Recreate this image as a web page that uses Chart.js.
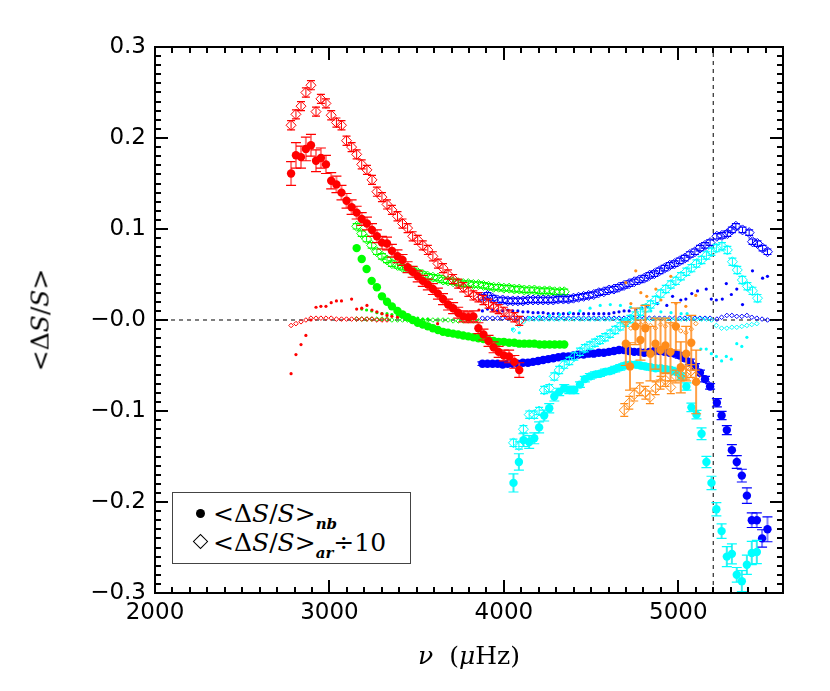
<!DOCTYPE html>
<html>
<head>
<meta charset="utf-8">
<script src="https://cdn.jsdelivr.net/npm/chart.js@4.4.1/dist/chart.umd.min.js"></script>
<style>
  html, body { margin:0; padding:0; background:#fff; }
  #wrap { position:relative; width:830px; height:691px; background:#fff; }
  #c { position:absolute; left:0; top:0; }
  .ov { position:absolute; white-space:nowrap; font-family:'DejaVu Serif', serif; color:#000; line-height:1; }
  .ov i { font-style:italic; }
  #ytitle { left:40px; top:320px; font-size:25px; transform:translate(-50%,-50%) rotate(-90deg); }
  #xtitle { left:469px; top:655px; font-size:25px; transform:translate(-50%,-50%); }
  #legend { position:absolute; left:172px; top:492px; width:237px; height:70px; border:1px solid #444; background:#fff; }
  .lrow { position:absolute; left:40px; font-family:'DejaVu Serif', serif; font-size:25px; line-height:1; white-space:nowrap; }
  .lrow sub { font-size:15px; font-weight:bold; font-style:italic; vertical-align:-7px; line-height:0; }
  #mk1 { position:absolute; left:23px; top:16px; width:9px; height:9px; border-radius:50%; background:#000; }
  #mk2 { position:absolute; left:22px; top:43px; width:9px; height:9px; border:1.6px solid #000; transform:rotate(45deg); }
</style>
</head>
<body>
<div id="wrap">
  <canvas id="c" width="830" height="691"></canvas>
  <div id="ytitle" class="ov">&lt;Δ<i>S</i>/<i>S</i>&gt;</div>
  <div id="xtitle" class="ov"><i>ν</i>&nbsp;&nbsp;(<i>μ</i>Hz)</div>
  <div id="legend">
    <div id="mk1"></div>
    <div class="lrow" style="top:8px;">&lt;Δ<i>S</i>/<i>S</i>&gt;<sub>nb</sub></div>
    <div id="mk2"></div>
    <div class="lrow" style="top:37px;">&lt;Δ<i>S</i>/<i>S</i>&gt;<sub>ar</sub>÷10</div>
  </div>
</div>
<script>
// ---------------- ticks ----------------
const xTickValues = [2000, 3000, 4000, 5000];
const xTickLabels = ['2000','3000','4000','5000'];
const yTickValues = [-0.3, -0.2, -0.1, 0, 0.1, 0.2, 0.3];
const yTickLabels = ['\u22120.3','\u22120.2','\u22120.1','\u22120.0','0.1','0.2','0.3'];

// ---------------- RED ----------------
const redNu = [2780,2808,2837,2865,2894,2923,2951,2980,3010,3040,3069,3098,3127,3156,3185,3215,3244,3272,3301,3330,3358,3390,3419,3448,3477,3506,3535,3564,3593,3622,3651,3680,3709,3738,3767,3796,3825,3854,3883,3912,3941,3970,4000,4030,4060,4088];
const redNb = [0.161,0.181,0.179,0.188,0.192,0.175,0.178,0.171,0.153,0.149,0.140,0.131,0.124,0.118,0.111,0.106,0.099,0.092,0.085,0.084,0.076,0.070,0.066,0.058,0.053,0.048,0.043,0.039,0.034,0.029,0.023,0.017,0.013,0.008,0.004,0.003,0.004,-0.009,-0.016,-0.023,-0.030,-0.035,-0.039,-0.040,-0.046,-0.055];
const redNbErr = [0.013,0.014,0.012,0.013,0.012,0.012,0.011,0.010,0.009,0.009,0.008,0.008,0.008,0.007,0.007,0.007,0.007,0.007,0.007,0.007,0.007,0.007,0.006,0.006,0.006,0.006,0.006,0.006,0.006,0.006,0.006,0.006,0.006,0.006,0.006,0.006,0.006,0.006,0.006,0.006,0.006,0.006,0.006,0.007,0.007,0.008];
const redAr = [0.214,0.226,0.235,0.250,0.258,0.229,0.243,0.238,0.225,0.217,0.214,0.197,0.190,0.182,0.171,0.165,0.154,0.141,0.135,0.127,0.121,0.114,0.106,0.101,0.092,0.088,0.082,0.077,0.070,0.062,0.057,0.050,0.045,0.040,0.036,0.031,0.027,0.025,0.022,0.018,0.014,0.012,0.009,0.006,0.003,-0.001];
const redDotNu = [2780,2808,2837,2865,2894,2923,2951,2980,3010,3040,3069,3127,3156,3185,3215,3244,3272,3301,3330,3358,3390,3620,3735,3857];
const redDot = [-0.059,-0.038,-0.027,-0.017,0.000,0.014,0.015,0.015,0.019,0.021,0.021,0.023,0.012,0.013,0.016,0.011,0.009,0.007,0.005,0.004,0.003,-0.004,0.005,0.011];
const redDiaNu = [2780,2808,2837,2865,2894,2923,2951,2980,3010,3040,3069,3098,3127,3156,3185,3215,3244,3272,3301,3330];
const redDia = [-0.006,-0.004,-0.002,0.000,0.002,0.002,0.002,0.002,0.002,0.001,0.001,0.001,0.001,0.001,0.001,0.001,0.001,0.000,0.000,0.000];

// ---------------- GREEN ----------------
const greenNu = [3156,3185,3213,3242,3272,3301,3330,3358,3390,3419,3448,3477,3506,3535,3564,3593,3622,3651,3680,3709,3738,3767,3796,3825,3854,3883,3912,3941,3970,4000,4030,4060,4088,4117,4146,4175,4204,4233,4262,4291,4320,4346];
const greenNb = [0.079,0.067,0.056,0.043,0.036,0.026,0.020,0.015,0.010,0.006,0.003,0.000,-0.003,-0.005,-0.007,-0.009,-0.011,-0.013,-0.014,-0.015,-0.016,-0.017,-0.018,-0.019,-0.020,-0.021,-0.022,-0.023,-0.024,-0.024,-0.025,-0.025,-0.026,-0.026,-0.026,-0.026,-0.027,-0.027,-0.027,-0.027,-0.027,-0.027];
const greenAr = [0.103,0.095,0.089,0.082,0.075,0.070,0.066,0.062,0.060,0.058,0.057,0.054,0.052,0.050,0.048,0.047,0.046,0.044,0.043,0.042,0.041,0.040,0.040,0.039,0.039,0.038,0.037,0.036,0.036,0.035,0.035,0.034,0.034,0.033,0.033,0.033,0.032,0.032,0.032,0.031,0.031,0.031];
const greenDotNu = [3185,3213,3242,3272,3301,3330,3358,3390,3419,3448,3477,3506,3535,3564];
const greenDot = [0.012,0.011,0.010,0.008,0.007,0.007,0.006,0.005,0.004,0.003,0.002,0.002,0.001,0.001];
const greenDiaNu = [3156,3185,3213,3242,3272,3301,3330,3358,3390,3419,3448,3477,3506,3535,3564,3593,3622,3651,3680,3709,3738,3767,3796,3825,3854];
const greenDia = [0.001,0.001,0.001,0.001,0.001,0.001,0.001,0.000,0.000,0.000,0.000,0.000,0.000,0.000,0.000,0.000,0.000,0.000,0.000,-0.001,-0.001,-0.001,-0.001,-0.001,-0.001];

// ---------------- BLUE ----------------
const blueNu = [3877,3906,3935,3964,3993,4022,4051,4080,4109,4138,4167,4196,4225,4254,4283,4312,4341,4370,4399,4428,4457,4486,4515,4544,4573,4602,4631,4660,4689,4718,4747,4776,4805,4834,4863,4892,4921,4950,4979,5008,5037,5066,5095,5124,5153,5182,5221,5248,5278,5307,5335,5364,5393,5421,5450,5480,5511];
const blueNb = [-0.048,-0.048,-0.048,-0.048,-0.049,-0.048,-0.048,-0.048,-0.047,-0.047,-0.046,-0.045,-0.044,-0.043,-0.042,-0.041,-0.040,-0.040,-0.039,-0.038,-0.038,-0.037,-0.037,-0.036,-0.036,-0.035,-0.034,-0.033,-0.033,-0.034,-0.035,-0.035,-0.036,-0.035,-0.034,-0.034,-0.035,-0.036,-0.037,-0.039,-0.042,-0.046,-0.051,-0.058,-0.065,-0.073,-0.091,-0.105,-0.121,-0.143,-0.156,-0.171,-0.193,-0.220,-0.220,-0.240,-0.230];
const blueNbErr = [0.002,0.002,0.002,0.002,0.002,0.002,0.002,0.002,0.002,0.002,0.002,0.002,0.002,0.002,0.002,0.002,0.002,0.002,0.002,0.002,0.002,0.002,0.002,0.002,0.002,0.002,0.002,0.002,0.002,0.002,0.002,0.002,0.002,0.002,0.002,0.002,0.002,0.002,0.002,0.003,0.003,0.003,0.003,0.003,0.003,0.003,0.0045,0.0045,0.005,0.006,0.007,0.007,0.0085,0.008,0.008,0.0095,0.0137];
const blueArNu = [3877,3906,3935,3964,3993,4022,4051,4080,4109,4138,4167,4196,4225,4254,4283,4312,4341,4370,4399,4428,4457,4486,4515,4544,4573,4602,4631,4660,4689,4718,4747,4776,4805,4834,4863,4892,4921,4950,4979,5008,5037,5066,5095,5124,5153,5182,5221,5250,5281,5307,5330,5368,5406,5425,5454,5483,5511];
const blueAr = [0.025,0.027,0.024,0.022,0.022,0.021,0.021,0.021,0.021,0.022,0.022,0.022,0.022,0.022,0.022,0.023,0.023,0.023,0.024,0.025,0.026,0.027,0.028,0.030,0.031,0.033,0.034,0.036,0.038,0.040,0.042,0.044,0.046,0.049,0.051,0.054,0.057,0.060,0.062,0.065,0.068,0.072,0.075,0.079,0.082,0.085,0.092,0.093,0.095,0.099,0.103,0.099,0.096,0.086,0.084,0.079,0.075];
const blueDotNu = [3877,3906,3935,3964,3993,4022,4051,4080,4109,4138,4167,4196,4225,4254,4283,4312,4341,4370,4399,4428,4457,4486,4515,4544,4573,4602,4631,4660,4689,4718,4756,4790,4823,4880,4934,4967,5014,5043,5077,5110,5160,5189,5218,5252,5275,5304,5335,5368,5425,5483,5511];
const blueDot = [0.010,0.012,0.011,0.010,0.010,0.011,0.010,0.010,0.009,0.009,0.008,0.008,0.008,0.007,0.007,0.007,0.007,0.007,0.007,0.007,0.007,0.007,0.007,0.007,0.007,0.007,0.008,0.009,0.010,0.010,0.011,0.013,0.015,0.018,0.016,0.026,0.022,0.023,0.029,0.032,0.034,0.023,0.022,0.023,0.040,0.028,0.034,0.017,0.054,0.046,0.048];
const blueDia = [0.002,0.002,0.002,0.002,0.002,0.002,0.002,0.002,0.002,0.002,0.002,0.002,0.002,0.002,0.002,0.002,0.002,0.002,0.002,0.002,0.002,0.002,0.002,0.002,0.002,0.002,0.002,0.002,0.002,0.002,0.002,0.002,0.002,0.002,0.002,0.002,0.002,0.002,0.002,0.002,0.002,0.002,0.002,0.002,0.002,0.002,0.001,0.003,0.005,0.005,0.004,0.004,0.005,0.003,0.002,0.001,0.000];

// ---------------- CYAN ----------------
const cyanNu = [4055,4086,4112,4145,4174,4202,4231,4260,4289,4317,4346,4375,4404,4436,4464,4493,4522,4551,4580,4609,4638,4667,4696,4725,4754,4783,4812,4841,4870,4899,4928,4957,4986,5015,5046,5075,5104,5133,5161,5190,5218,5248,5278,5307,5335,5364,5393,5421,5450];
const cyanNb = [-0.179,-0.156,-0.132,-0.134,-0.130,-0.118,-0.105,-0.097,-0.084,-0.079,-0.075,-0.077,-0.077,-0.071,-0.065,-0.062,-0.060,-0.059,-0.057,-0.056,-0.054,-0.052,-0.050,-0.049,-0.049,-0.050,-0.051,-0.052,-0.053,-0.053,-0.054,-0.055,-0.057,-0.062,-0.073,-0.096,-0.104,-0.125,-0.156,-0.179,-0.208,-0.232,-0.260,-0.257,-0.280,-0.287,-0.269,-0.256,-0.255];
const cyanNbErr = [0.010,0.009,0.007,0.007,0.006,0.006,0.006,0.005,0.005,0.004,0.004,0.004,0.004,0.003,0.003,0.003,0.003,0.003,0.003,0.003,0.003,0.003,0.003,0.003,0.003,0.003,0.003,0.003,0.003,0.003,0.003,0.003,0.003,0.004,0.004,0.0046,0.0046,0.0064,0.0062,0.0073,0.0073,0.008,0.011,0.011,0.008,0.0115,0.0106,0.0128,0.0128];
const cyanArNu = [4055,4086,4112,4145,4174,4202,4231,4260,4289,4317,4346,4375,4404,4436,4464,4493,4522,4551,4580,4609,4638,4667,4696,4725,4754,4783,4812,4841,4870,4899,4928,4957,4986,5015,5046,5075,5104,5133,5161,5190,5218,5250,5281,5310,5338,5367,5396,5425,5454];
const cyanAr = [-0.135,-0.138,-0.120,-0.104,-0.104,-0.100,-0.077,-0.075,-0.062,-0.055,-0.049,-0.045,-0.040,-0.035,-0.031,-0.028,-0.025,-0.022,-0.019,-0.015,-0.011,-0.007,-0.003,0.001,0.005,0.009,0.013,0.017,0.022,0.029,0.034,0.039,0.043,0.048,0.053,0.057,0.062,0.066,0.071,0.075,0.079,0.081,0.077,0.064,0.055,0.044,0.037,0.032,0.024];
const cyanDotNu = [4049,4088,4146,4204,4262,4320,4378,4436,4494,4552,4610,4668,4726,4784,4842,4900,4958,5016,5050,5129,5160,5189,5218,5248,5275,5304,5335,5364,5393];
const cyanDot = [-0.010,-0.014,0.003,0.004,0.005,0.006,0.008,0.010,0.013,0.016,0.017,0.016,0.014,0.012,0.010,0.009,0.008,0.007,0.007,-0.032,-0.032,-0.037,-0.040,-0.045,-0.040,-0.043,-0.026,-0.029,-0.019];
const cyanDia = [-0.011,-0.006,-0.002,0.001,0.001,0.001,0.001,0.001,0.001,0.001,0.001,0.001,0.001,0.001,0.001,0.001,0.001,0.001,0.001,0.001,0.001,0.001,0.001,0.001,0.001,0.001,0.001,0.001,0.001,0.001,0.001,0.001,0.001,0.001,0.001,0.001,0.001,0.001,0.001,0.000,-0.006,-0.009,-0.009,-0.008,-0.008,-0.007,-0.006,-0.005,-0.004];

// ---------------- ORANGE ----------------
const orangeNu = [4699,4723,4754,4783,4811,4840,4869,4898,4926,4955,4986,5014,5045,5074,5102];
const orangeNb = [-0.026,-0.051,-0.007,-0.022,-0.009,-0.037,-0.026,-0.033,-0.028,-0.035,-0.007,-0.052,-0.037,-0.025,-0.068];
const orangeNbErr = [0.024,0.026,0.020,0.022,0.025,0.030,0.028,0.033,0.030,0.032,0.026,0.028,0.030,0.030,0.035];
const orangeArNu = [4690,4719,4747,4779,4811,4837,4870,4898,4926,4957,4986,5014,5043,5072,5100];
const orangeAr = [-0.099,-0.091,-0.082,-0.076,-0.080,-0.085,-0.075,-0.069,-0.066,-0.074,-0.062,-0.060,-0.058,-0.056,-0.062];
const orangeDotNu = [4699,4728,4756,4785,4819,4871,4900,4957,4986,5043,5100];
const orangeDot = [0.041,0.018,0.054,0.030,0.026,0.034,0.022,0.048,0.018,0.015,0.027];
const orangeDiaNu = [4699,4728,4756,4785,4811,4840,4869,4898,4926,4957,4986,5014,5043,5074,5100];
const orangeDia = [-0.004,-0.009,-0.006,-0.005,-0.004,-0.006,-0.009,-0.005,-0.007,-0.004,-0.010,-0.012,-0.014,-0.010,-0.004];

// ---------------- build ----------------
const COL = {
  red:   {c:'#ff0000', e:'rgba(255,80,80,0.75)'},
  green: {c:'#00ff00', e:'rgba(0,220,0,0.6)'},
  blue:  {c:'#0000ff', e:'rgba(90,90,255,0.75)'},
  cyan:  {c:'#00ffff', e:'rgba(0,235,235,0.8)'},
  orange:{c:'#ff8c1a', e:'rgba(255,150,50,0.9)'}
};
function pts(nu, v){ return nu.map((x,i)=>({x:x, y:v[i]})); }
function circles(col, nu, v, err){
  return {data:pts(nu,v), pointStyle:'circle', pointRadius:4.2, backgroundColor:COL[col].c, borderColor:COL[col].c, borderWidth:0,
          errors:err, errColor:COL[col].e, capColor:COL[col].c, errWidth:2, cap:5};
}
function bigDia(col, nu, v, e){
  return {data:pts(nu,v), pointStyle:'rectRot', pointRadius:5, backgroundColor:'rgba(0,0,0,0)', borderColor:COL[col].c, borderWidth:1,
          errConst:e, errColor:COL[col].c, capColor:COL[col].c, errWidth:1, cap:4};
}
function smallDia(col, nu, v){
  return {data:pts(nu,v), pointStyle:'rectRot', pointRadius:2.3, backgroundColor:'rgba(0,0,0,0)', borderColor:COL[col].c, borderWidth:1};
}
function dots(col, nu, v){
  return {data:pts(nu,v), pointStyle:'circle', pointRadius:1.6, backgroundColor:COL[col].c, borderColor:COL[col].c, borderWidth:0};
}

// bottom -> top
const layers = [
  dots('green', greenDotNu, greenDot), smallDia('green', greenDiaNu, greenDia), bigDia('green', greenNu, greenAr, 0.003), circles('green', greenNu, greenNb, null),
  dots('blue', blueDotNu, blueDot), smallDia('blue', blueNu, blueDia), bigDia('blue', blueArNu, blueAr, 0.003), circles('blue', blueNu, blueNb, blueNbErr),
  dots('cyan', cyanDotNu, cyanDot), smallDia('cyan', cyanNu, cyanDia), bigDia('cyan', cyanArNu, cyanAr, 0.004), circles('cyan', cyanNu, cyanNb, cyanNbErr),
  dots('red', redDotNu, redDot), smallDia('red', redDiaNu, redDia), bigDia('red', redNu, redAr, 0.005), circles('red', redNu, redNb, redNbErr),
  dots('orange', orangeDotNu, orangeDot), smallDia('orange', orangeDiaNu, orangeDia), bigDia('orange', orangeArNu, orangeAr, 0.007), circles('orange', orangeNu, orangeNb, orangeNbErr)
];
const datasets = layers.slice().reverse();

const framePlugin = {
  id:'frame',
  beforeDatasetsDraw(chart){
    const {ctx, chartArea:a, scales:{x, y}} = chart;
    ctx.save();
    ctx.strokeStyle = '#000'; ctx.lineWidth = 1; ctx.setLineDash([4,4]);
    const y0 = y.getPixelForValue(0);
    ctx.beginPath(); ctx.moveTo(a.left, y0); ctx.lineTo(a.right, y0); ctx.stroke();
    const xv = x.getPixelForValue(5200);
    ctx.beginPath(); ctx.moveTo(xv, a.bottom); ctx.lineTo(xv, a.top); ctx.stroke();
    ctx.restore();
  },
  beforeDatasetDraw(chart, args){
    const ds = chart.data.datasets[args.index];
    if (!ds.errors && !ds.errConst) return;
    const {ctx, chartArea:a, scales:{x, y}} = chart;
    ctx.save();
    ctx.beginPath(); ctx.rect(a.left, a.top, a.right-a.left, a.bottom-a.top); ctx.clip();
    ds.data.forEach((p, i) => {
      const e = ds.errors ? ds.errors[i] : ds.errConst;
      const px = x.getPixelForValue(p.x);
      const y1 = y.getPixelForValue(p.y + e), y2 = y.getPixelForValue(p.y - e);
      ctx.strokeStyle = ds.errColor; ctx.lineWidth = ds.errWidth;
      ctx.beginPath(); ctx.moveTo(px, y1); ctx.lineTo(px, y2); ctx.stroke();
      ctx.strokeStyle = ds.capColor; ctx.lineWidth = 1.2;
      ctx.beginPath();
      ctx.moveTo(px-ds.cap, y1); ctx.lineTo(px+ds.cap, y1);
      ctx.moveTo(px-ds.cap, y2); ctx.lineTo(px+ds.cap, y2);
      ctx.stroke();
    });
    ctx.restore();
  },
  afterDraw(chart){
    const {ctx, chartArea:a, scales:{x, y}} = chart;
    ctx.save();
    ctx.strokeStyle = '#000'; ctx.lineWidth = 2; ctx.setLineDash([]);
    ctx.strokeRect(a.left, a.top, a.right-a.left, a.bottom-a.top);
    ctx.beginPath();
    for (let v = 2000; v <= 5600; v += 100) {
      const px = Math.round(x.getPixelForValue(v)) ;
      const L = (v % 1000 === 0) ? 13 : 6;
      ctx.moveTo(px, a.bottom); ctx.lineTo(px, a.bottom - L);
      ctx.moveTo(px, a.top); ctx.lineTo(px, a.top + L);
    }
    for (let k = -30; k <= 30; k++) {
      const py = Math.round(y.getPixelForValue(k/100));
      const L = (k % 10 === 0) ? 13 : 6;
      ctx.moveTo(a.left, py); ctx.lineTo(a.left + L, py);
      ctx.moveTo(a.right, py); ctx.lineTo(a.right - L, py);
    }
    ctx.stroke();
    ctx.restore();
  }
};

new Chart(document.getElementById('c'), {
  type:'scatter',
  data:{ datasets: datasets },
  options:{
    responsive:false, animation:false,
    layout:{ padding:{left:0, right:47, top:47, bottom:0} },
    plugins:{ legend:{display:false}, tooltip:{enabled:false} },
    scales:{
      x:{ type:'linear', min:2000, max:5600, bounds:'data',
          grid:{display:false, drawTicks:false}, border:{display:false},
          afterBuildTicks:(s)=>{ s.ticks = xTickValues.map(v=>({value:v})); },
          ticks:{ autoSkip:false, maxRotation:0, padding:6, color:'#000',
                  font:{family:'DejaVu Sans', size:23},
                  callback:(v)=> xTickLabels[xTickValues.indexOf(v)] },
          afterFit:(s)=>{ s.height = 98; } },
      y:{ type:'linear', min:-0.3, max:0.3, bounds:'data',
          grid:{display:false, drawTicks:false}, border:{display:false},
          afterBuildTicks:(s)=>{ s.ticks = yTickValues.map(v=>({value:v})); },
          ticks:{ autoSkip:false, padding:9, color:'#000',
                  font:{family:'DejaVu Sans', size:23},
                  callback:(v)=> yTickLabels[yTickValues.indexOf(v)] },
          afterFit:(s)=>{ s.width = 155; } }
    }
  },
  plugins:[framePlugin]
});
</script>
</body>
</html>
